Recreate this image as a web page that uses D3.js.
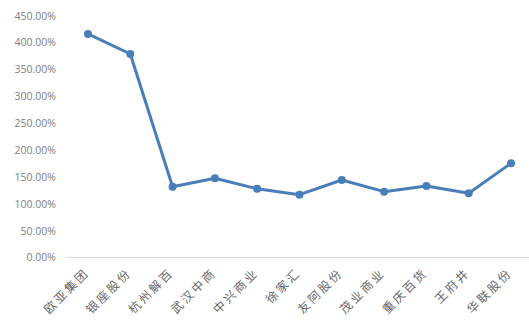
<!DOCTYPE html>
<html>
<head>
<meta charset="utf-8">
<script src="https://cdn.jsdelivr.net/npm/d3@7"></script>
<style>
    body { margin: 0; background: #fff; }
    svg { display: block; }
</style>
</head>
<body>
<div id="chart"></div>
<script>
// categories + values
const companies = ["欧亚集团", "银座股份", "杭州解百", "武汉中商", "中兴商业", "徐家汇", "友阿股份", "茂业商业", "重庆百货", "王府井", "华联股份"];
const ratios = [416.0, 378.7, 131.8, 147.4, 128.0, 116.9, 144.2, 122.5, 133.1, 119.5, 175.3];
const yTicks = [0, 50, 100, 150, 200, 250, 300, 350, 400, 450];

const width = 529, height = 326;

let svg = d3.select("#chart")
    .append("svg")
    .attr("width", width)
    .attr("height", height);

// scales
let x = d3.scalePoint()
    .domain(companies)
    .range([88, 511]);

let y = d3.scaleLinear()
    .domain([0, 450])
    .range([257.5, 15.7]);

// y axis labels (no line, no ticks)
let yAxis = d3.axisLeft(y)
    .tickValues(yTicks)
    .tickSize(0)
    .tickPadding(0)
    .tickFormat(d => d.toFixed(2) + "%");

svg.append("g")
    .attr("class", "y-axis")
    .attr("transform", "translate(56,0)")
    .call(yAxis)
    .call(g => g.select(".domain").remove())
    .selectAll("text")
    .attr("font-family", "'Open Sans', sans-serif")
    .attr("font-size", "10.5px")
    .attr("fill", "#808080");

// x axis baseline
svg.append("line")
    .attr("x1", 66)
    .attr("x2", width)
    .attr("y1", y(0))
    .attr("y2", y(0))
    .attr("stroke", "#d9d9d9")
    .attr("stroke-width", 1);

// rotated category labels
svg.append("g")
    .attr("class", "x-labels")
    .selectAll("text")
    .data(companies)
    .join("text")
    .attr("transform", d => `translate(${x(d) + 2},${y(0) + 16}) rotate(-45)`)
    .attr("text-anchor", "end")
    .attr("font-family", "'Noto Sans CJK SC', sans-serif")
    .attr("font-size", "12px")
    .attr("letter-spacing", "2.5px")
    .attr("fill", "#666")
    .text(d => d);

// line
let line = d3.line()
    .x((d, i) => x(companies[i]))
    .y(d => y(d));

svg.append("path")
    .datum(ratios)
    .attr("d", line)
    .attr("fill", "none")
    .attr("stroke", "#4a7ebb")
    .attr("stroke-width", 3)
    .attr("stroke-linejoin", "round");

// markers
svg.append("g")
    .selectAll("circle")
    .data(ratios)
    .join("circle")
    .attr("cx", (d, i) => x(companies[i]))
    .attr("cy", d => y(d))
    .attr("r", 4)
    .attr("fill", "#4a7ebb");
</script>
</body>
</html>
